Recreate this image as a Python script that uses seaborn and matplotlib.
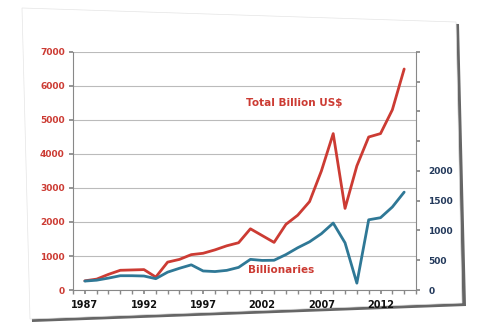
import matplotlib
matplotlib.use("Agg")
import matplotlib.pyplot as plt
import seaborn as sns
import numpy as np
import pandas as pd
from matplotlib.patches import Polygon
from matplotlib.ticker import MultipleLocator, FixedLocator, FuncFormatter

years = list(range(1987, 2015))
total_billion_usd = [270, 320, 460, 580, 590, 600, 380, 820, 900, 1040, 1080, 1180,
                     1300, 1390, 1800, 1600, 1400, 1930, 2200, 2600, 3500, 4600,
                     2400, 3650, 4500, 4600, 5300, 6500]
billionaires = [150, 165, 200, 240, 240, 235, 190, 300, 365, 423, 320, 310,
                330, 380, 515, 497, 500, 595, 710, 810, 946, 1125,
                793, 115, 1180, 1215, 1395, 1645]
x_labels = [1987, 1992, 1997, 2002, 2007, 2012]
left_ticks = [0, 1000, 2000, 3000, 4000, 5000, 6000, 7000]

RED = "#cc3b33"
BLUE = "#2f7896"
NAVY = "#23395b"

df = pd.DataFrame({"year": years, "total": total_billion_usd, "count": billionaires})

sns.set_theme(style="white")
plt.rcParams['font.family'] = ['DejaVu Sans']

fig = plt.figure(figsize=(4.8, 3.29), dpi=100)
fig.patch.set_facecolor("white")

# card with shadow
W, H = 480, 329
def fc(pts):
    return [(x / W, 1 - y / H) for x, y in pts]
shadow = Polygon(fc([(24, 10), (459, 24), (466, 306), (32, 322)]), closed=True,
                 transform=fig.transFigure, facecolor="#666666", edgecolor="none", zorder=-3)
card = Polygon(fc([(22, 8), (456, 22), (462, 303), (30, 319)]), closed=True,
               transform=fig.transFigure, facecolor="white", edgecolor="#e4e4e4",
               lw=0.5, zorder=-2)
fig.patches.extend([shadow, card])

ax = fig.add_axes([73 / W, 1 - 290 / H, 343 / W, 238 / H])
ax.set_facecolor("none")
ax.set_zorder(2)
sns.lineplot(data=df, x="year", y="total", ax=ax, color=RED, lw=2.0)
ax.set_xlim(1986, 2015)
ax.set_ylim(0, 7000)
ax.yaxis.set_major_locator(FixedLocator(left_ticks))
ax.grid(axis="y", color="#bbbbbb", lw=0.8)
ax.grid(axis="x", visible=False)
ax.xaxis.set_major_locator(FixedLocator(x_labels))
ax.xaxis.set_minor_locator(MultipleLocator(1))
ax.tick_params(axis="x", which="both", direction="out", length=3, color="#888888",
               bottom=True, labelsize=7, pad=4)
ax.tick_params(axis="y", direction="out", length=3, color="#888888", left=True,
               labelsize=6.5, labelcolor=RED, pad=3)
for lab in ax.get_xticklabels():
    lab.set_fontweight("bold")
    lab.set_color("#111111")
for lab in ax.get_yticklabels():
    lab.set_fontweight("bold")
ax.set_xlabel("")
ax.set_ylabel("")
for s in ["top", "right"]:
    ax.spines[s].set_visible(False)
for s in ["left", "bottom"]:
    ax.spines[s].set_color("#888888")
    ax.spines[s].set_linewidth(0.8)

ax2 = ax.twinx()
ax2.set_zorder(3)
ax2.patch.set_visible(False)
sns.lineplot(data=df, x="year", y="count", ax=ax2, color=BLUE, lw=2.0)
ax2.set_ylim(0, 4000)
ax2.yaxis.set_major_locator(MultipleLocator(500))
ax2.yaxis.set_major_formatter(FuncFormatter(lambda v, p: f"{int(v)}" if v <= 2000 else ""))
ax2.tick_params(axis="y", direction="out", length=3, color="#888888", right=True,
                labelsize=6.5, labelcolor=NAVY, pad=6)
for lab in ax2.get_yticklabels():
    lab.set_fontweight("bold")
ax2.set_ylabel("")
ax2.grid(False)
for s in ["top", "left", "bottom"]:
    ax2.spines[s].set_visible(False)
ax2.spines["right"].set_color("#888888")
ax2.spines["right"].set_linewidth(0.8)

ax.text(2004.7, 5500, "Total Billion US$", color=RED, fontsize=7.5, fontweight="bold",
        ha="center", va="center")
ax.text(2003.6, 600, "Billionaries", color=RED, fontsize=7.5, fontweight="bold",
        ha="center", va="center")

fig.savefig("out.png", dpi=100)
